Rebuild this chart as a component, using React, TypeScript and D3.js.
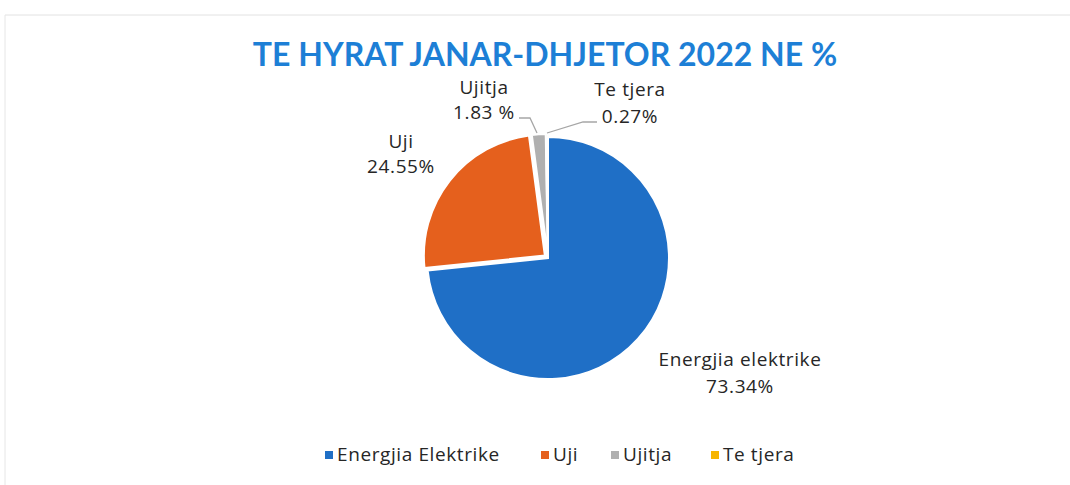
import React from "react";
import * as d3 from "d3";

const categories = ["Energjia Elektrike", "Uji", "Ujitja", "Te tjera"];
const values = [73.34, 24.55, 1.83, 0.27];
const labelNames = ["Energjia elektrike", "Uji", "Ujitja", "Te tjera"];
const labelValues = ["73.34%", "24.55%", "1.83 %", "0.27%"];
const colors = ["#1f6fc6", "#e5601d", "#b0b0b0", "#f7b500"];
const explode = [0, 4, 3, 3];

const W = 1070;
const H = 485;
const cx = 548;
const cy = 258;
const R = 121;
const FONT = "'Open Sans', 'Noto Sans', sans-serif";

export default function App() {
  const pie = d3.pie<number>().sort(null).value((d) => d);
  const arcs = pie(values);
  const arcGen = d3.arc<d3.PieArcDatum<number>>().innerRadius(0).outerRadius(R);

  // label anchor positions (center x, first line baseline y)
  const labelPos: [number, number][] = [
    [740, 366],
    [401, 148],
    [484, 94],
    [630, 96],
  ];
  const lineGap = [27, 25, 25, 27];

  const legendX = [325, 541, 611, 711];

  return (
    <svg
      width={W}
      height={H}
      style={{ position: "absolute", left: 0, top: 0, background: "#fff" }}
      fontFamily={FONT}
    >
      <rect width={W} height={H} fill="#fff" />
      <line x1={5} y1={15} x2={W} y2={15} stroke="#e2e2e2" strokeWidth={1} />
      <line x1={5} y1={15} x2={5} y2={H} stroke="#e6e6e6" strokeWidth={1} />

      <text
        x={545}
        y={66}
        textAnchor="middle"
        fontSize={32}
        fontWeight="bold"
        fill="#1d7fd6"
        fontFamily="Lato, sans-serif"
      >
        TE HYRAT JANAR-DHJETOR 2022 NE %
      </text>

      <g>
        {arcs.map((a, i) => {
          const mid = (a.startAngle + a.endAngle) / 2;
          const dx = Math.sin(mid) * explode[i];
          const dy = -Math.cos(mid) * explode[i];
          return (
            <path
              key={i}
              d={arcGen(a) || ""}
              transform={`translate(${cx + dx},${cy + dy})`}
              fill={colors[i]}
              stroke="#fff"
              strokeWidth={2}
            />
          );
        })}
      </g>

      {/* leader lines */}
      <path d="M519,118 L530,118 L537,133" fill="none" stroke="#a6a6a6" strokeWidth={1.3} />
      <path d="M597,122 L583,122 L547,133" fill="none" stroke="#a6a6a6" strokeWidth={1.3} />

      {labelNames.map((n, i) => (
        <text
          key={i}
          x={labelPos[i][0]}
          y={labelPos[i][1]}
          textAnchor="middle"
          fontSize={19}
          letterSpacing={0.6}
          fill="#262626"
        >
          <tspan x={labelPos[i][0]}>{n}</tspan>
          <tspan x={labelPos[i][0]} dy={lineGap[i]}>
            {labelValues[i]}
          </tspan>
        </text>
      ))}

      <g>
        {categories.map((c, i) => (
          <g key={c} transform={`translate(${legendX[i]},461)`}>
            <rect x={0} y={-10} width={8} height={8} fill={colors[i]} />
            <text x={12} y={0} fontSize={19} letterSpacing={0.6} fill="#262626">
              {c}
            </text>
          </g>
        ))}
      </g>
    </svg>
  );
}
